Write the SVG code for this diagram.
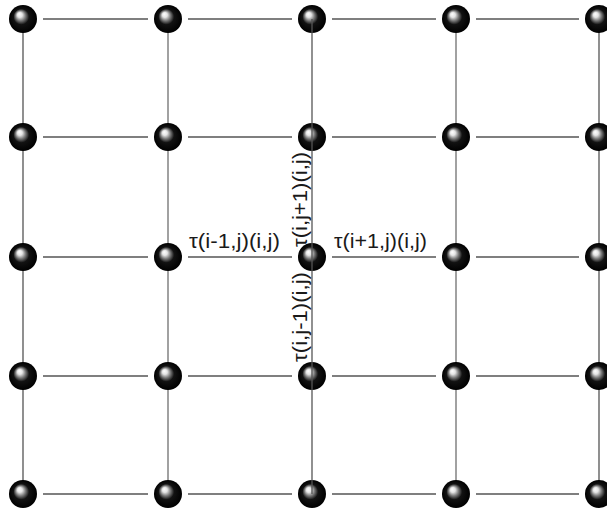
<svg xmlns="http://www.w3.org/2000/svg" width="607" height="508" viewBox="0 0 607 508">
<defs>
<radialGradient id="ball" cx="0.5" cy="0.5" r="0.5" fx="0.36" fy="0.32">
<stop offset="0" stop-color="#ffffff"/>
<stop offset="0.18" stop-color="#e4e4e4"/>
<stop offset="0.36" stop-color="#7a7a7a"/>
<stop offset="0.56" stop-color="#121212"/>
<stop offset="1" stop-color="#000"/>
</radialGradient>
<circle id="b" r="14" fill="url(#ball)"/>
</defs>
<style>
.h{stroke:#555;stroke-width:1.3;fill:none}
.v{stroke:#8a8a8a;stroke-width:1.6;fill:none}
.vd{stroke:#555;stroke-width:1.3;fill:none}
text{font-family:"Liberation Sans",Arial,sans-serif;font-size:20px;fill:#1a1a1a}
</style>
<rect width="607" height="508" fill="#fff"/>
<g id="connectors">
<path class="vd" d="M23 19V494M599 19V494"/>
<path class="v" d="M168 19V494M456 19V494"/>
<path class="h" d="M43 19H148M188 19H292M332 19H436M476 19H579"/>
<path class="h" d="M43 137H148M188 137H292M332 137H436M476 137H579"/>
<path class="h" d="M43 257H148M188 257H292M332 257H436M476 257H579"/>
<path class="h" d="M43 376H148M188 376H292M332 376H436M476 376H579"/>
<path class="h" d="M43 494H148M188 494H292M332 494H436M476 494H579"/>
</g>
<g id="nodes">
<g id="n00"><use href="#b" x="23" y="19"/></g>
<g id="n01"><use href="#b" x="168" y="19"/></g>
<g id="n02"><use href="#b" x="312" y="19"/></g>
<g id="n03"><use href="#b" x="456" y="19"/></g>
<g id="n04"><use href="#b" x="599" y="19"/></g>
<g id="n10"><use href="#b" x="23" y="137"/></g>
<g id="n11"><use href="#b" x="168" y="137"/></g>
<g id="n12"><use href="#b" x="312" y="137"/></g>
<g id="n13"><use href="#b" x="456" y="137"/></g>
<g id="n14"><use href="#b" x="599" y="137"/></g>
<g id="n20"><use href="#b" x="23" y="257"/></g>
<g id="n21"><use href="#b" x="168" y="257"/></g>
<g id="n22"><use href="#b" x="312" y="257"/></g>
<g id="n23"><use href="#b" x="456" y="257"/></g>
<g id="n24"><use href="#b" x="599" y="257"/></g>
<g id="n30"><use href="#b" x="23" y="376"/></g>
<g id="n31"><use href="#b" x="168" y="376"/></g>
<g id="n32"><use href="#b" x="312" y="376"/></g>
<g id="n33"><use href="#b" x="456" y="376"/></g>
<g id="n34"><use href="#b" x="599" y="376"/></g>
<g id="n40"><use href="#b" x="23" y="494"/></g>
<g id="n41"><use href="#b" x="168" y="494"/></g>
<g id="n42"><use href="#b" x="312" y="494"/></g>
<g id="n43"><use href="#b" x="456" y="494"/></g>
<g id="n44"><use href="#b" x="599" y="494"/></g>
</g>
<path class="vd" d="M312 19V494" stroke-width="1"/>
<g id="labels">
<text x="189" y="248" textLength="91" lengthAdjust="spacingAndGlyphs">τ(i-1,j)(i,j)</text>
<text x="334" y="248" textLength="93" lengthAdjust="spacingAndGlyphs">τ(i+1,j)(i,j)</text>
<text transform="translate(307 247) rotate(-90)" textLength="95" lengthAdjust="spacingAndGlyphs">τ(i,j+1)(i,j)</text>
<text transform="translate(307 362) rotate(-90)" textLength="90" lengthAdjust="spacingAndGlyphs">τ(i,j-1)(i,j)</text>
</g>
</svg>
